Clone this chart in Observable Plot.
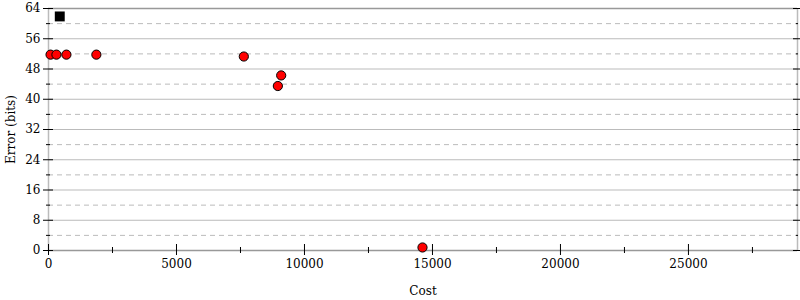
<!DOCTYPE html>
<html><head><meta charset="utf-8">
<script src="https://cdn.jsdelivr.net/npm/d3@7"></script>
<script src="https://cdn.jsdelivr.net/npm/@observablehq/plot@0.6"></script>
<style>
body{margin:0;background:#fff}
</style>
</head><body><div id="chart"></div>
<script>
const costs = [80, 310, 700, 1870, 7630, 8960, 9090, 14610];
const errors = [51.8, 51.8, 51.8, 51.8, 51.3, 43.5, 46.3, 0.8];
const baselineCost = [440];
const baselineError = [61.9];
const xTicks = [0, 5000, 10000, 15000, 20000, 25000];
const xMinor = [2500, 7500, 12500, 17500, 22500, 27500];
const yTicks = [0, 8, 16, 24, 32, 40, 48, 56, 64];
const yMinor = [4, 12, 20, 28, 36, 44, 52, 60];
const xMax = 29260;

const pts = costs.map((c, i) => ({cost: c, error: errors[i]}));
const base = baselineCost.map((c, i) => ({cost: c, error: baselineError[i]}));

const chart = Plot.plot({
  width: 800, height: 300,
  marginLeft: 48, marginRight: 3, marginTop: 8, marginBottom: 50,
  style: {fontSize: "12px", color: "#000", background: "#fff"},
  x: {domain: [0, xMax]},
  y: {domain: [0, 64]},
  marks: [
    Plot.ruleY(yMinor, {stroke: "#bbb", strokeDasharray: "5,4"}),
    Plot.ruleY(yTicks, {stroke: "#bbb"}),
    Plot.ruleX([0, xMax], {stroke: "#bbb", strokeWidth: 1.5}),
    Plot.ruleY([0, 64], {stroke: "#999", strokeWidth: 1.5}),
    Plot.axisY(yTicks, {anchor: "left", tickSize: 5, tickPadding: 3, label: "Error (bits)", labelAnchor: "center", labelArrow: "none", labelOffset: 42, stroke: "#000"}),
    Plot.axisY(yTicks, {anchor: "left", tickSize: -5, text: null, label: null, stroke: "#000"}),
    Plot.axisY(yMinor, {anchor: "left", tickSize: 2, text: null, label: null, stroke: "#000"}),
    Plot.axisY(yMinor, {anchor: "left", tickSize: -2, text: null, label: null, stroke: "#000"}),
    Plot.axisY(yTicks, {anchor: "right", tickSize: 5, text: null, label: null, stroke: "#000"}),
    Plot.axisY(yTicks, {anchor: "right", tickSize: -5, text: null, label: null, stroke: "#000"}),
    Plot.axisY(yMinor, {anchor: "right", tickSize: -2, text: null, label: null, stroke: "#000"}),
    Plot.axisX(xTicks, {anchor: "bottom", tickSize: 5, tickPadding: 4, tickFormat: d => String(d), label: "Cost", labelAnchor: "center", labelArrow: "none", labelOffset: 44, stroke: "#000"}),
    Plot.axisX(xTicks, {anchor: "bottom", tickSize: -6, text: null, label: null, stroke: "#000"}),
    Plot.axisX(xMinor, {anchor: "bottom", tickSize: 3, text: null, label: null, stroke: "#000"}),
    Plot.axisX(xMinor, {anchor: "bottom", tickSize: -3, text: null, label: null, stroke: "#000"}),
    Plot.dot(base, {x: "cost", y: "error", symbol: "square", r: 5.6, fill: "#000"}),
    Plot.dot(pts, {x: "cost", y: "error", r: 4.6, fill: "red", stroke: "#000", strokeWidth: 1})
  ]
});
d3.select(chart).style("font-family", null).attr("font-family", "DejaVu Serif");
d3.select(chart).selectAll("style").remove();
d3.select(chart).selectAll("text").attr("font-family", "DejaVu Serif").attr("fill", "#000");
document.getElementById("chart").appendChild(chart);
</script></body></html>
